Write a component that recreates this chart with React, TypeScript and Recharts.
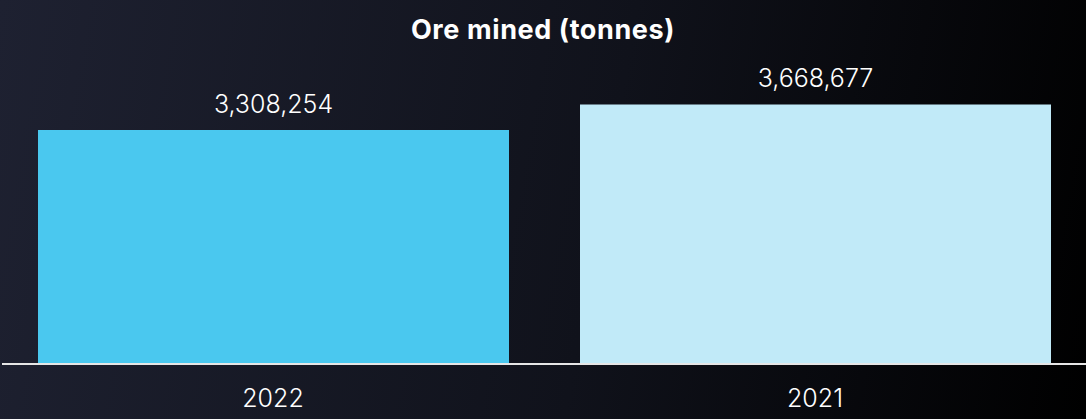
import { BarChart, Bar, XAxis, YAxis, Cell, LabelList } from 'recharts'

const years = ['2022', '2021']
const oreMined = [3308254, 3668677]
const barColors = ['#4ac8ef', '#c1eaf8']

const data = years.map((year, i) => ({ year, value: oreMined[i] }))

const font = 'Inter, "Open Sans", sans-serif'

export default function App() {
  return (
    <div
      style={{
        position: 'absolute',
        left: 0,
        top: 0,
        width: 1086,
        height: 419,
        background: 'linear-gradient(100deg, #1e2131 0%, #10121b 55%, #000000 100%)',
        fontFamily: font,
      }}
    >
      <div
        style={{
          position: 'absolute',
          top: 13,
          left: 0,
          width: 1086,
          textAlign: 'center',
          color: '#ffffff',
          fontWeight: 700,
          fontSize: 27,
          letterSpacing: 0.6,
        }}
      >
        Ore mined (tonnes)
      </div>
      <BarChart
        width={1086}
        height={419}
        data={data}
        margin={{ top: 81, right: 0, left: 2, bottom: 0 }}
      >
        <YAxis hide domain={[0, 4000000]} />
        <XAxis
          dataKey="year"
          height={55}
          axisLine={{ stroke: '#e6e6e6', strokeWidth: 2 }}
          tickLine={false}
          tickMargin={19}
          tick={{ fill: '#ffffff', fontSize: 25, fontFamily: font, fontWeight: 300 }}
        />
        <Bar dataKey="value" barSize={471} isAnimationActive={false}>
          {data.map((d, i) => (
            <Cell key={d.year} fill={barColors[i]} />
          ))}
          <LabelList
            dataKey="value"
            position="top"
            offset={17}
            formatter={(v: number) => v.toLocaleString('en-US')}
            style={{ fill: '#ffffff', fontSize: 25, fontFamily: font, fontWeight: 300 }}
          />
        </Bar>
      </BarChart>
    </div>
  )
}
